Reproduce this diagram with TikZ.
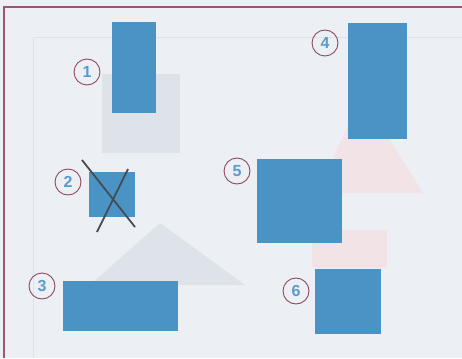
\documentclass[tikz,border=0pt]{standalone}
\usepackage{fontspec}
\setsansfont{Liberation Sans}
\definecolor{paper}{HTML}{ECEFF4}
\definecolor{shapeblue}{HTML}{4A93C5}
\definecolor{ringred}{HTML}{8E4A5E}
\definecolor{digitblue}{HTML}{5B9BCB}
\definecolor{framered}{HTML}{9A5572}
\definecolor{crossgrey}{HTML}{454B55}
\definecolor{ghostgrey}{HTML}{DDE3E9}
\definecolor{ghostpink}{HTML}{F2E4E6}
\begin{document}
\begin{tikzpicture}[x=1pt, y=-1pt,
    num/.style={circle, draw=ringred, line width=0.9pt, minimum size=26pt, inner sep=0pt,
                text=digitblue, font=\sffamily\bfseries\fontsize{16}{16}\selectfont}]
    \useasboundingbox (0,0) rectangle (462,358);
    \fill[paper] (0,0) rectangle (462,358);
    % faint shapes showing through the page
    \draw[ghostgrey, line width=1pt] (33,358) -- (33,38) -- (462,38);
    \fill[ghostgrey] (102,74) rectangle (180,153);
    \fill[ghostgrey] (160,223) -- (245,285) -- (90,285) -- cycle;
    \fill[ghostpink] (362,95) -- (423,193) -- (317,193) -- cycle;
    \fill[ghostpink] (312,230) rectangle (387,268);
    % page frame
    \draw[framered, line width=1.2pt] (4,358) -- (4,7) -- (462,7);
    % blue shapes
    \foreach \xa/\ya/\xb/\yb in {112/22/156/113, 89/172/135/217, 63/281/178/331,
                                 348/23/407/139, 257/159/342/243, 315/269/381/334}
      \fill[shapeblue] (\xa,\ya) rectangle (\xb,\yb);
    % numbers
    \foreach \i/\x/\y in {1/87/72, 2/68/182, 3/42/286, 4/325/43, 5/237/171, 6/296/291}
      \node[num] (n\i) at (\x,\y) {\i};
    % crossed out
    \draw[crossgrey, line width=1.8pt] (82,160) -- (135,227);
    \draw[crossgrey, line width=1.8pt] (128,169) -- (97,232);
\end{tikzpicture}
\end{document}
